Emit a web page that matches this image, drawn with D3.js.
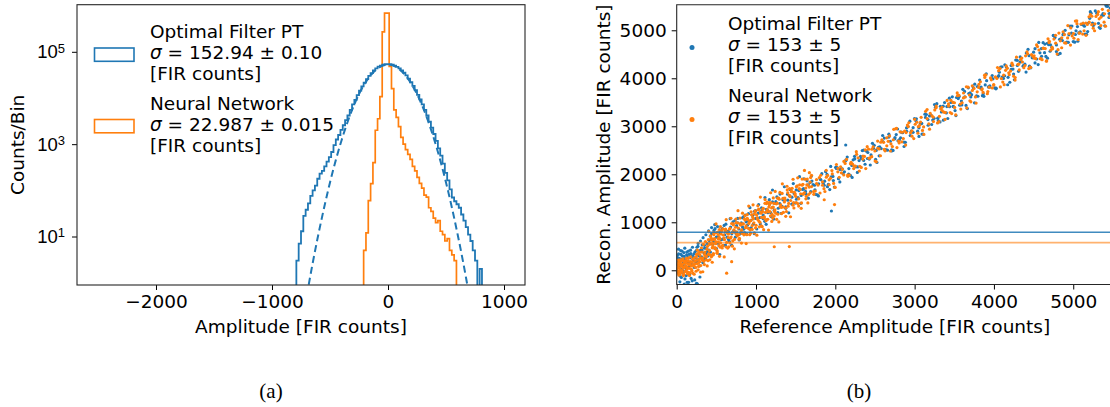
<!DOCTYPE html>
<html>
<head>
<meta charset="utf-8">
<script src="https://cdn.jsdelivr.net/npm/d3@7"></script>
<style>
  body { margin: 0; background: #fff; }
  svg { display: block; font-family: "DejaVu Sans", sans-serif; }
</style>
</head>
<body>
<svg id="fig" width="1110" height="407"></svg>
<script>
// ---------- data: panel (a) histograms ----------
const binW = 20;
const ofLo = -790;   // first bin edge, Optimal Filter
const ofCounts = [3, 7, 13, 28, 38, 52, 76, 100, 126, 178, 229, 263, 331, 417, 525, 676, 955, 1260, 1580, 2040,
  2570, 3310, 4170, 5500, 7240, 9120, 11500, 14450, 17800, 21400, 25700, 30200, 34700, 39800, 43600, 47900, 50100, 52500, 53700,
  54300, 53700, 52500, 50100, 47300, 43600, 39800, 35500, 30900, 26300, 21900, 18200, 14800, 11700, 9330, 7240, 5500, 4170,
  3090, 2290, 1660, 1175, 813, 562, 380, 240, 165, 105, 70, 58, 50, 42, 30, 22, 16, 11, 8, 5, 3, 0, 2];
const nnLo = -210;   // first bin edge, Neural Network
const nnCounts = [5, 12, 60, 140, 400, 2000, 3550, 10700, 270000, 690000, 690000, 48000, 16000, 5500, 3800, 2400, 1400, 1000,
  760, 600, 468, 331, 263, 190, 141, 112, 79, 71, 42, 35, 25, 20, 22, 13, 11, 8, 9, 5, 4, 3];
// gaussian fit (dashed)
const fitX = [-700, -650, -600, -550, -500, -450, -400, -350, -300, -250, -200, -150, -100, -50, 0,
  50, 100, 150, 200, 250, 300, 350, 400, 450, 500, 550, 600, 650, 700];
const fitCounts = [0.53, 2.6, 11.2, 43, 148, 451, 1220, 2950, 6340, 12100, 20500, 30900, 41500, 49500, 52500,
  49500, 41500, 30900, 20500, 12100, 6340, 2950, 1220, 451, 148, 43, 11.2, 2.6, 0.53];
const ampTicks = [-2000, -1000, 0, 1000];
const logTicks = [1e1, 1e3, 1e5];
const logTickExp = ["1", "3", "5"];

// ---------- data: panel (b) scatter ----------
const refTicks = [0, 1000, 2000, 3000, 4000, 5000];
const ofThreshold = 790;
const nnThreshold = 575;

const ofLow = [[5,120],[12,260],[18,-40],[25,340],[30,60],[38,180],[44,-120],[50,410],[55,210],[62,20],[70,300],[76,-60],
  [83,150],[90,370],[96,90],[104,-180],[110,240],[118,30],[125,320],[132,-250],[140,180],[148,400],[155,80],[163,-90],
  [170,260],[178,350],[186,130],[195,-220],[204,290],[212,200],[222,60],[230,380],[240,150],[250,-270],[262,330],[275,230],
  [288,90],[300,420],[315,280],[330,160],[345,360],[360,250],[378,450],[395,300],[40,-240],[95,-290],[150,-250],[260,-285]];
const ofLow2 = [[8,310],[16,180],[23,440],[34,250],[42,90],[53,330],[59,-150],[67,400],[74,240],[86,-20],[93,290],[102,460],
  [112,160],[120,-110],[127,380],[137,270],[146,-60],[157,330],[166,150],[174,420],[182,-170],[191,300],[199,480],[208,110],
  [218,340],[227,-200],[236,260],[247,410],[257,190],[268,500],[280,320],[293,-140],[307,390],[322,530],[336,230],[352,460],
  [367,340],[384,560],[398,410],[255,480],[270,560],[285,300],[300,610],[318,420],[333,680],[350,520],[368,740],[385,380],
  [402,820],[420,560],[440,890],[460,640],[480,950],[500,560]];
const ofMid = [[410,620],[425,380],[440,760],[455,540],[470,830],[485,450],[500,690],[515,910],[530,560],[545,780],[560,640],
  [575,870],[590,520],[605,740],[620,960],[635,690],[650,810],[665,600],[680,900],[695,760],[710,1010],[725,820],[740,690],
  [755,930],[770,1080],[785,860],[800,760],[815,990],[830,900],[845,1120],[860,780],[875,1010],[890,940],[905,1180],[920,870],
  [935,1040],[950,1150],[965,960],[980,1230],[995,1080],[1010,860],[1030,1190],[1050,1100],[1070,1300],[1090,1150],[1110,1020],
  [1130,1270],[1150,1200],[1170,1380],[1190,1120],[1210,1310],[1230,1250],[1250,1430],[1275,1200],[1300,1390],[1325,1330],
  [1350,1500],[1375,1290],[1400,1460],[1425,1550],[1450,1380],[1480,1600],[1510,1480],[1540,1660],[1570,1560],[1600,1700],
  [1630,1590],[1660,1780],[1690,1640],[1951,1235],[1208,1673],[2131,2610]];
const ofMid2 = [[408,420],[425,710],[448,317],[463,592],[484,866],[503,450],[520,707],[543,328],[558,804],[579,649],[598,935],
  [615,523],[638,806],[653,639],[674,1076],[693,523],[710,806],[733,1037],[748,766],[769,989],[788,631],[805,953],[828,1093],
  [843,855],[864,1149],[883,752],[900,1029],[923,1305],[938,885],[959,1146],[978,763],[995,1241],[1018,1088],[1033,1370],
  [1054,962],[1073,1241],[1090,1076],[1113,1515],[1128,958],[1149,1245],[1168,1472],[1185,1203],[1208,1428],[1223,1066],
  [1244,1392],[1263,1528],[1280,1292],[1303,1588],[1318,1187],[1339,1468],[1358,1740],[1375,1322],[1398,1585],[1413,1198],
  [1434,1680],[1453,1523],[1470,1807],[1493,1401],[1508,1676],[1529,1515],[1548,1950],[1565,1395],[1588,1684],[1603,1907],
  [1624,1642],[1643,1863],[1660,1503],[1683,1831],[1698,1963]];
const ofHigh1 = [[1720,1784],[1755,1579],[1790,1803],[1830,2013],[1860,1772],[1895,1997],[1930,1681],[1970,1955],[2005,2145],
  [2040,1909],[2080,2109],[2115,2053],[2150,2358],[2190,1977],[2225,2302],[2260,2156],[2300,2286],[2340,2495],[2375,2209],
  [2410,2454],[2450,2403],[2490,2603],[2525,2247],[2560,2572],[2600,2681],[2640,2510],[2675,2835],[2710,2509],[2750,2739],
  [2790,2698],[2830,2878],[2865,2672],[2900,2897],[2940,3106],[2980,2875],[3020,3105],[3055,2789],[3090,3059],[3130,3253],
  [3170,3022],[3210,3222],[3245,3166],[3280,3471],[3320,3090],[3360,3420],[3400,3279],[3440,3408],[3475,3613],[3510,3327],
  [3550,3577],[3590,3526],[3630,3726],[3665,3370],[3700,3695],[3740,3804],[3780,3633],[3820,3963],[3855,3637],[3890,3862],
  [3930,3821],[3970,4000],[4010,3800],[4050,4029],[4085,4234],[4120,3998],[4160,4228],[4200,3917],[4240,4191],[4275,4381],
  [4310,4145],[4350,4345],[4390,4294],[4430,4604],[4465,4218],[4500,4543],[4540,4402],[4580,4531],[4620,4741],[4655,4455],
  [4690,4700],[4730,4649],[4770,4848],[4810,4498],[4845,4822],[4880,4927],[4920,4756],[4960,5086],[5000,4765],[5035,4989],
  [5070,4944],[5110,5123],[5150,4923],[5190,5152],[5225,5357],[5260,5121],[5300,5351],[5340,5040],[5380,5314],[5415,5504],
  [5450,5268],[5490,5468]];
const ofHigh2 = [[1738,1772],[1773,1572],[1808,1901],[1848,1806],[1878,2055],[1913,1790],[1948,1949],[1988,1733],[2023,2138],
  [2058,2102],[2098,2017],[2133,2286],[2168,2006],[2208,2185],[2243,2375],[2278,2039],[2318,2374],[2358,2288],[2393,2482],
  [2428,2317],[2468,2646],[2508,2311],[2543,2560],[2578,2535],[2618,2754],[2658,2503],[2693,2688],[2728,2497],[2768,2827],
  [2808,2721],[2848,2866],[2883,2665],[2918,2995],[2958,2899],[2998,3158],[3038,2898],[3073,3057],[3108,2837],[3148,3246],
  [3188,3215],[3228,3130],[3263,3399],[3298,3119],[3338,3298],[3378,3493],[3418,3162],[3458,3496],[3493,3406],[3528,3600],
  [3568,3440],[3608,3769],[3648,3434],[3683,3683],[3718,3658],[3758,3877],[3798,3626],[3838,3816],[3873,3625],[3908,3950],
  [3948,3844],[3988,3988],[4028,3793],[4068,4127],[4103,4027],[4138,4281],[4178,4021],[4218,4185],[4258,3969],[4293,4374],
  [4328,4338],[4368,4253],[4408,4527],[4448,4252],[4483,4426],[4518,4616],[4558,4285],[4598,4619],[4638,4534],[4673,4728],
  [4708,4563],[4748,4892],[4788,4556],[4828,4811],[4863,4785],[4898,5000],[4938,4749],[4978,4939],[5018,4753],[5053,5077],
  [5088,4967],[5128,5111],[5168,4916],[5208,5250],[5243,5150],[5278,5404],[5318,5144],[5358,5308],[5398,5092],[5433,5497],
  [5468,5461],[5508,5376]];
const ofHigh3 = [[1705,1859],[1743,1677],[1787,1550],[1818,1886],[1865,1857],[1901,1742],[1942,2163],[1975,1870],[2013,2123],
  [2057,1841],[2088,2112],[2135,2303],[2171,2118],[2212,1934],[2245,2321],[2283,2154],[2327,2327],[2358,2503],[2405,2329],
  [2441,2194],[2482,2540],[2515,2497],[2553,2385],[2597,2808],[2628,2514],[2675,2775],[2711,2485],[2752,2766],[2785,2943],
  [2823,2761],[2867,2579],[2898,2965],[2945,2806],[2981,2971],[3022,3157],[3055,2969],[3093,2837],[3137,3185],[3168,3140],
  [3215,3037],[3251,3452],[3292,3168],[3325,3415],[3363,3128],[3407,3411],[3438,3586],[3485,3413],[3521,3223],[3562,3619],
  [3595,3446],[3633,3614],[3677,3802],[3708,3612],[3755,3489],[3791,3829],[3832,3795],[3865,3677],[3903,4094],[3947,3813],
  [3978,4058],[4025,3780],[4061,4055],[4102,4240],[4135,4053],[4173,3865],[4217,4264],[4248,4089],[4295,4266],[4331,4446],
  [4372,4266],[4405,4129],[4443,4471],[4487,4440],[4518,4320],[4565,4747],[4601,4457],[4642,4712],[4675,4420],[4713,4697],
  [4757,4886],[4788,4696],[4835,4517],[4871,4908],[4912,4743],[4945,4906],[4983,5088],[5027,4912],[5058,4772],[5105,5123],
  [5141,5084],[5182,4974],[5215,5387],[5253,5099],[5297,5358],[5328,5063],[5375,5349],[5411,5530],[5452,5350],[5485,5158]];

const nnLow = [[4,30],[9,-60],[15,110],[20,-20],[27,170],[33,50],[40,-90],[46,220],[52,0],[58,130],[65,-40],[71,80],[78,240],
  [85,-110],[92,60],[99,160],[106,-30],[113,100],[121,200],[128,20],[136,-70],[143,140],[151,260],[159,40],[167,-50],[175,180],
  [183,90],[192,-10],[201,230],[210,120],[220,-80],[229,190],[239,60],[249,280],[259,140],[270,10],[281,230],[292,320],
  [304,100],[316,250],[329,-30],[342,190],[356,380],[370,220],[385,90],[399,330]];
const nnLow2 = [[3,140],[8,-20],[14,60],[21,210],[26,-100],[31,110],[37,0],[43,160],[49,-50],[56,90],[61,200],[68,-10],
  [74,130],[81,40],[88,-80],[94,190],[101,70],[108,-20],[116,150],[123,250],[131,60],[139,-40],[146,200],[154,110],[161,-110],
  [169,130],[177,280],[186,20],[194,170],[203,-60],[213,90],[223,260],[233,130],[244,-20],[254,210],[265,350],[276,80],
  [290,180],[302,-40],[318,380],[333,260],[349,120],[364,300],[381,440],[394,200],
  [250,330],[262,420],[275,150],[288,380],[300,260],[312,470],[325,210],[338,540],[350,330],[362,600],[375,280],[388,500],
  [400,640],[412,410],[425,720],[438,280],[450,560],[463,350],[475,660],[488,470],[500,780],[512,400],[525,590],[538,850],
  [550,480]];
const nnMid1 = [[405,345],[420,550],[434,654],[448,468],[462,322],[476,636],[490,555],[504,424],[518,798],[532,512],[546,651],
  [560,755],[574,464],[588,733],[602,637],[616,856],[630,580],[644,769],[658,488],[672,872],[686,691],[700,785],[714,969],
  [728,643],[742,897],[756,801],[770,985],[784,744],[798,1088],[812,807],[826,766],[840,970],[854,1074],[868,888],[882,742],
  [896,1056],[910,975],[924,844],[938,1218],[952,932],[966,1071],[980,1175],[994,884],[1008,1153],[1022,1057],[1036,1276],
  [1050,1000],[1064,1189],[1078,908],[1092,1292],[1106,1111],[1120,1205],[1134,1389],[1148,1063],[1162,1317],[1176,1221],
  [1190,1405],[1204,1164],[1218,1508],[1232,1227],[1250,1190],[1268,1398],[1286,1506],[1304,1324],[1322,1182],[1340,1500],
  [1358,1423],[1376,1296],[1394,1674],[1412,1392],[1430,1535],[1448,1643],[1466,1356],[1484,1629],[1502,1537],[1520,1760],
  [1538,1488],[1556,1681],[1574,1404],[1592,1792],[1610,1615],[1628,1713],[1646,1901],[1664,1579],[1682,1837],[1700,1745]];
const nnMid2 = [[412,539],[427,319],[441,628],[455,507],[469,741],[483,455],[497,594],[511,353],[525,737],[539,681],[553,570],
  [567,819],[581,518],[595,672],[609,841],[623,485],[637,794],[651,683],[665,857],[679,671],[693,975],[707,614],[721,843],
  [735,797],[749,991],[763,715],[777,879],[791,668],[805,972],[819,841],[833,960],[847,739],[861,1048],[875,927],[889,1161],
  [903,875],[917,1014],[931,773],[945,1157],[959,1101],[973,990],[987,1239],[1001,938],[1015,1092],[1029,1261],[1043,905],
  [1057,1214],[1071,1103],[1085,1277],[1099,1091],[1113,1395],[1127,1034],[1141,1263],[1155,1217],[1169,1411],[1183,1135],
  [1197,1299],[1211,1088],[1225,1392],[1239,1261],[1257,1384],[1275,1167],[1293,1480],[1311,1363],[1329,1601],[1347,1319],
  [1365,1462],[1383,1225],[1401,1613],[1419,1561],[1437,1454],[1455,1707],[1473,1410],[1491,1568],[1509,1741],[1527,1389],
  [1545,1702],[1563,1595],[1581,1773],[1599,1591],[1617,1899],[1635,1542],[1653,1775],[1671,1733],[1689,1931],
  [1230,490],[1420,495],[1860,1470],[1990,1370],[693,180],[630,-60]];
const nnMid3 = [[405,805],[418,218],[437,667],[448,168],[464,784],[478,468],[496,966],[508,368],[521,661],[540,290],[551,911],
  [567,497],[581,861],[599,279],[611,801],[624,1054],[643,463],[654,754],[670,570],[684,1084],[702,502],[714,944],[727,447],
  [746,1066],[757,747],[773,1243],[787,647],[805,945],[817,567],[830,1190],[849,779],[860,1140],[876,556],[890,1080],
  [908,1338],[920,740],[933,1033],[952,852],[963,1363],[979,779],[993,1223],[1011,731],[1023,1343],[1036,1026],[1055,1525],
  [1066,926],[1082,1222],[1096,846],[1114,1474],[1126,1056],[1139,1419],[1158,838],[1169,1359],[1185,1615],[1199,1019],
  [1217,1317],[1229,1129],[1242,1642],[1261,1061],[1272,1502],[1288,1008],[1302,1622],[1320,1310],[1332,1802],[1345,1205],
  [1364,1504],[1375,1125],[1391,1751],[1405,1335],[1423,1703],[1435,1115],[1448,1638],[1467,1897],[1478,1298],[1494,1594],
  [1508,1408],[1526,1926],[1538,1338],[1551,1781],[1570,1290],[1581,1901],[1597,1587],[1611,2081],[1629,1489],[1641,1781],
  [1654,1404],[1673,2033],[1684,1614],[1700,1980]];
const nnHigh1 = [[1729,1583],[1764,1808],[1799,1932],[1839,1772],[1869,1641],[1904,1976],[1939,1915],[1979,1809],[2014,2204],
  [2049,1938],[2089,2103],[2124,2227],[2159,1957],[2199,2251],[2234,2176],[2269,2415],[2309,2165],[2349,2379],[2384,2118],
  [2419,2523],[2459,2367],[2499,2487],[2534,2691],[2569,2386],[2609,2665],[2649,2594],[2684,2799],[2719,2578],[2759,2948],
  [2799,2692],[2839,2677],[2874,2901],[2909,3026],[2949,2865],[2989,2744],[3029,3084],[3064,3023],[3099,2913],[3139,3312],
  [3179,3051],[3219,3216],[3254,3340],[3289,3070],[3329,3364],[3369,3294],[3409,3538],[3449,3287],[3484,3497],[3519,3236],
  [3559,3646],[3599,3490],[3639,3610],[3674,3814],[3709,3509],[3749,3788],[3789,3717],[3829,3927],[3864,3706],[3899,4071],
  [3939,3815],[3979,3799],[4019,4029],[4059,4158],[4094,3993],[4129,3867],[4169,4207],[4209,4151],[4249,4045],[4284,4440],
  [4319,4174],[4359,4339],[4399,4468],[4439,4203],[4474,4492],[4509,4417],[4549,4661],[4589,4410],[4629,4625],[4664,4364],
  [4699,4769],[4739,4613],[4779,4732],[4819,4942],[4854,4636],[4889,4911],[4929,4840],[4969,5050],[5009,4834],[5044,5198],
  [5079,4938],[5119,4922],[5159,5152],[5199,5281],[5234,5116],[5269,4990],[5309,5330],[5349,5274],[5389,5168],[5424,5563],
  [5459,5297],[5499,5462]];
const nnHigh2 = [[1747,1651],[1782,1776],[1817,1980],[1857,1700],[1887,1939],[1922,1884],[1957,2078],[1997,1727],[2032,2052],
  [2067,2156],[2107,1986],[2142,2310],[2177,1985],[2217,2214],[2252,2169],[2287,2343],[2327,2143],[2367,2372],[2402,2576],
  [2437,2341],[2477,2570],[2517,2260],[2552,2529],[2587,2719],[2627,2488],[2667,2687],[2702,2632],[2737,2936],[2777,2556],
  [2817,2885],[2857,2745],[2892,2869],[2927,3074],[2967,2793],[3007,3042],[3047,2992],[3082,3186],[3117,2831],[3157,3160],
  [3197,3269],[3237,3099],[3272,3423],[3307,3098],[3347,3327],[3387,3287],[3427,3466],[3467,3265],[3502,3490],[3537,3694],
  [3577,3464],[3617,3693],[3657,3383],[3692,3652],[3727,3842],[3767,3611],[3807,3810],[3847,3760],[3882,4064],[3917,3679],
  [3957,4008],[3997,3867],[4037,3997],[4077,4206],[4112,3921],[4147,4165],[4187,4115],[4227,4314],[4267,3963],[4302,4288],
  [4337,4392],[4377,4222],[4417,4551],[4457,4231],[4492,4455],[4527,4410],[4567,4589],[4607,4388],[4647,4618],[4682,4822],
  [4717,4587],[4757,4816],[4797,4505],[4837,4780],[4872,4969],[4907,4734],[4947,4933],[4987,4883],[5027,5192],[5062,4806],
  [5097,5131],[5137,4990],[5177,5120],[5217,5329],[5252,5044],[5287,5288],[5327,5238],[5367,5437],[5407,5086],[5442,5411],
  [5477,5515],[5517,5345]];
const nnHigh3 = [[1725,1639],[1763,1887],[1807,1610],[1838,1841],[1885,2082],[1921,1782],[1962,2008],[1995,1730],[2033,2123],
  [2077,2031],[2108,2267],[2155,1983],[2191,2218],[2232,2119],[2265,2471],[2303,2069],[2347,2317],[2378,2508],[2425,2334],
  [2461,2524],[2502,2275],[2535,2542],[2573,2670],[2617,2518],[2648,2759],[2695,2485],[2731,2720],[2772,2956],[2805,2653],
  [2843,2876],[2887,2609],[2918,2995],[2965,2906],[3001,3146],[3042,2857],[3075,3089],[3113,2987],[3157,3350],[3188,2940],
  [3235,3192],[3271,3387],[3312,3208],[3345,3395],[3383,3143],[3427,3421],[3458,3541],[3505,3393],[3541,3638],[3582,3359],
  [3615,3591],[3653,3824],[3697,3532],[3728,3747],[3775,3484],[3811,3874],[3852,3780],[3885,4017],[3923,3724],[3967,3968],
  [3998,3858],[4045,4225],[4081,3820],[4122,4065],[4155,4258],[4193,4075],[4237,4274],[4268,4014],[4315,4296],[4351,4421],
  [4392,4266],[4425,4509],[4463,4226],[4507,4470],[4538,4695],[4585,4407],[4621,4627],[4662,4357],[4695,4745],[4733,4647],
  [4777,4896],[4808,4596],[4855,4842],[4891,4738],[4932,5098],[4965,4691],[5003,4933],[5047,5137],[5078,4947],[5125,5148],
  [5161,4894],[5202,5169],[5235,5292],[5273,5134],[5317,5388],[5348,5098],[5395,5344],[5431,5575],[5472,5280],[5505,5497]];

// ---------- setup ----------
const blue = "#1f77b4", orange = "#ff7f0e";
const fs = 18.5;
const svg = d3.select("#fig");
const minus = (d) => d < 0 ? "\u2212" + Math.abs(d) : String(d);

const styleAxis = (g) => {
  g.select(".domain").remove();
  g.selectAll(".tick line").attr("stroke", "#000").attr("stroke-width", 1);
  g.selectAll(".tick text").attr("font-size", fs).attr("fill", "#000")
    .attr("font-family", "DejaVu Sans");
};

// ================= panel (a) =================
const pa = {left: 77, right: 525, top: 4.7, bottom: 285};
const xa = d3.scaleLinear().domain([-2681, 1181]).range([pa.left, pa.right]);
const ya = d3.scaleLog().domain([Math.pow(10, -0.05), Math.pow(10, 6.02)]).range([pa.bottom, pa.top]);

svg.append("clipPath").attr("id", "clipA")
  .append("rect").attr("x", pa.left).attr("y", pa.top)
  .attr("width", pa.right - pa.left).attr("height", pa.bottom - pa.top);

const gA = svg.append("g").attr("clip-path", "url(#clipA)");

const stepPath = (lo, counts) => {
  const floor = pa.bottom + 4;
  const yv = (c) => c > 0 ? ya(c) : floor;
  const pts = [[xa(lo), floor]];
  counts.forEach((c, i) => {
    pts.push([xa(lo + i * binW), yv(c)]);
    pts.push([xa(lo + (i + 1) * binW), yv(c)]);
  });
  pts.push([xa(lo + counts.length * binW), floor]);
  return d3.line()(pts);
};

gA.append("path").attr("d", stepPath(nnLo, nnCounts))
  .attr("fill", "none").attr("stroke", orange).attr("stroke-width", 1.7);
gA.append("path").attr("d", stepPath(ofLo, ofCounts))
  .attr("fill", "none").attr("stroke", blue).attr("stroke-width", 1.8);

const fitLine = d3.line()
  .x((d, i) => xa(fitX[i]))
  .y((d) => ya(d))
  .curve(d3.curveCatmullRom);
gA.append("path").attr("d", fitLine(fitCounts))
  .attr("fill", "none").attr("stroke", blue).attr("stroke-width", 2)
  .attr("stroke-dasharray", "7,4");

// axes
svg.append("g").attr("transform", `translate(0,${pa.bottom})`)
  .call(d3.axisBottom(xa).tickValues(ampTicks).tickSize(5).tickPadding(5).tickFormat(minus))
  .call(styleAxis);

const gya = svg.append("g").attr("transform", `translate(${pa.left},0)`)
  .call(d3.axisLeft(ya).tickValues(logTicks).tickSize(5).tickPadding(7).tickFormat(""))
  .call(styleAxis);
gya.selectAll(".tick").each(function(d, i) {
  const t = d3.select(this).append("text")
    .attr("x", -12).attr("dy", "0.32em").attr("text-anchor", "end")
    .attr("font-size", fs).attr("fill", "#000");
  t.append("tspan").text("10");
  t.append("tspan").attr("dy", "-0.42em").attr("font-size", 13).text(logTickExp[i]);
});

svg.append("rect").attr("x", pa.left).attr("y", pa.top)
  .attr("width", pa.right - pa.left).attr("height", pa.bottom - pa.top)
  .attr("fill", "none").attr("stroke", "#262626").attr("stroke-width", 1.1);

svg.append("text").attr("x", (pa.left + pa.right) / 2).attr("y", 332.5)
  .attr("text-anchor", "middle").attr("font-size", fs).text("Amplitude [FIR counts]");
svg.append("text").attr("transform", `translate(17,${(pa.top + pa.bottom) / 2}) rotate(-90)`)
  .attr("text-anchor", "middle").attr("dominant-baseline", "central")
  .attr("font-size", fs).text("Counts/Bin");

// legend (a)
const legA = [
  {color: blue, y: 38, lines: ["Optimal Filter PT", "152.94 \u00b1 0.10", "[FIR counts]"]},
  {color: orange, y: 109.5, lines: ["Neural Network", "22.987 \u00b1 0.015", "[FIR counts]"]}
];
legA.forEach((L) => {
  svg.append("rect").attr("x", 94.5).attr("y", L.y + 10).attr("width", 39.5).attr("height", 13.3)
    .attr("fill", "none").attr("stroke", L.color).attr("stroke-width", 1.6);
  L.lines.forEach((s, k) => {
    const t = svg.append("text").attr("x", 150).attr("y", L.y + k * 21).attr("font-size", fs);
    if (k === 1) {
      t.append("tspan").attr("font-style", "italic").text("\u03c3");
      t.append("tspan").text(" = " + s);
    } else t.text(s);
  });
});

// ================= panel (b) =================
const pb = {left: 676.7, right: 1112.9, top: 4.7, bottom: 284.5};
const xb = d3.scaleLinear().domain([0, 5500]).range([pb.left, pb.right]);
const yb = d3.scaleLinear().domain([-296, 5533]).range([pb.bottom, pb.top]);

svg.append("clipPath").attr("id", "clipB")
  .append("rect").attr("x", pb.left).attr("y", pb.top)
  .attr("width", pb.right - pb.left).attr("height", pb.bottom - pb.top);
const gB = svg.append("g").attr("clip-path", "url(#clipB)");

const dots = (data, color) => {
  gB.append("g").selectAll("circle").data(data).enter().append("circle")
    .attr("cx", (d) => xb(d[0])).attr("cy", (d) => yb(d[1]))
    .attr("r", 1.6).attr("fill", color);
};
dots([...ofLow, ...ofLow2, ...ofMid, ...ofMid2, ...ofHigh1, ...ofHigh2, ...ofHigh3], blue);
dots([...nnLow, ...nnLow2, ...nnMid1, ...nnMid2, ...nnMid3, ...nnHigh1, ...nnHigh2, ...nnHigh3], orange);

gB.append("line").attr("x1", pb.left).attr("x2", pb.right)
  .attr("y1", yb(ofThreshold)).attr("y2", yb(ofThreshold))
  .attr("stroke", blue).attr("stroke-width", 1.5).attr("stroke-opacity", 0.85);
gB.append("line").attr("x1", pb.left).attr("x2", pb.right)
  .attr("y1", yb(nnThreshold)).attr("y2", yb(nnThreshold))
  .attr("stroke", orange).attr("stroke-width", 1.8).attr("stroke-opacity", 0.6);

svg.append("g").attr("transform", `translate(0,${pb.bottom})`)
  .call(d3.axisBottom(xb).tickValues(refTicks).tickSize(5).tickPadding(5).tickFormat(minus))
  .call(styleAxis);
svg.append("g").attr("transform", `translate(${pb.left},0)`)
  .call(d3.axisLeft(yb).tickValues(refTicks).tickSize(5).tickPadding(5).tickFormat(minus))
  .call(styleAxis);

svg.append("path")
  .attr("d", `M${pb.right},${pb.top}H${pb.left}V${pb.bottom}H${pb.right}`)
  .attr("fill", "none").attr("stroke", "#262626").attr("stroke-width", 1.1);

svg.append("text").attr("x", (pb.left + pb.right) / 2).attr("y", 332.5)
  .attr("text-anchor", "middle").attr("font-size", fs).text("Reference Amplitude [FIR counts]");
svg.append("text").attr("transform", `translate(603,${(pb.top + pb.bottom) / 2}) rotate(-90)`)
  .attr("text-anchor", "middle").attr("dominant-baseline", "central")
  .attr("font-size", fs).text("Recon. Amplitude [FIR counts]");

// legend (b)
const legB = [
  {color: blue, y: 29.5, lines: ["Optimal Filter PT", "153 \u00b1 5", "[FIR counts]"]},
  {color: orange, y: 101.5, lines: ["Neural Network", "153 \u00b1 5", "[FIR counts]"]}
];
legB.forEach((L) => {
  svg.append("circle").attr("cx", 692).attr("cy", L.y + 18).attr("r", 2.5).attr("fill", L.color);
  L.lines.forEach((s, k) => {
    const t = svg.append("text").attr("x", 728).attr("y", L.y + k * 21).attr("font-size", fs);
    if (k === 1) {
      t.append("tspan").attr("font-style", "italic").text("\u03c3");
      t.append("tspan").text(" = " + s);
    } else t.text(s);
  });
});

// captions
svg.append("text").attr("x", 271).attr("y", 398).attr("text-anchor", "middle")
  .attr("font-family", "Liberation Serif").attr("font-size", 21).text("(a)");
svg.append("text").attr("x", 859).attr("y", 398).attr("text-anchor", "middle")
  .attr("font-family", "Liberation Serif").attr("font-size", 21).text("(b)");
</script>
</body>
</html>
